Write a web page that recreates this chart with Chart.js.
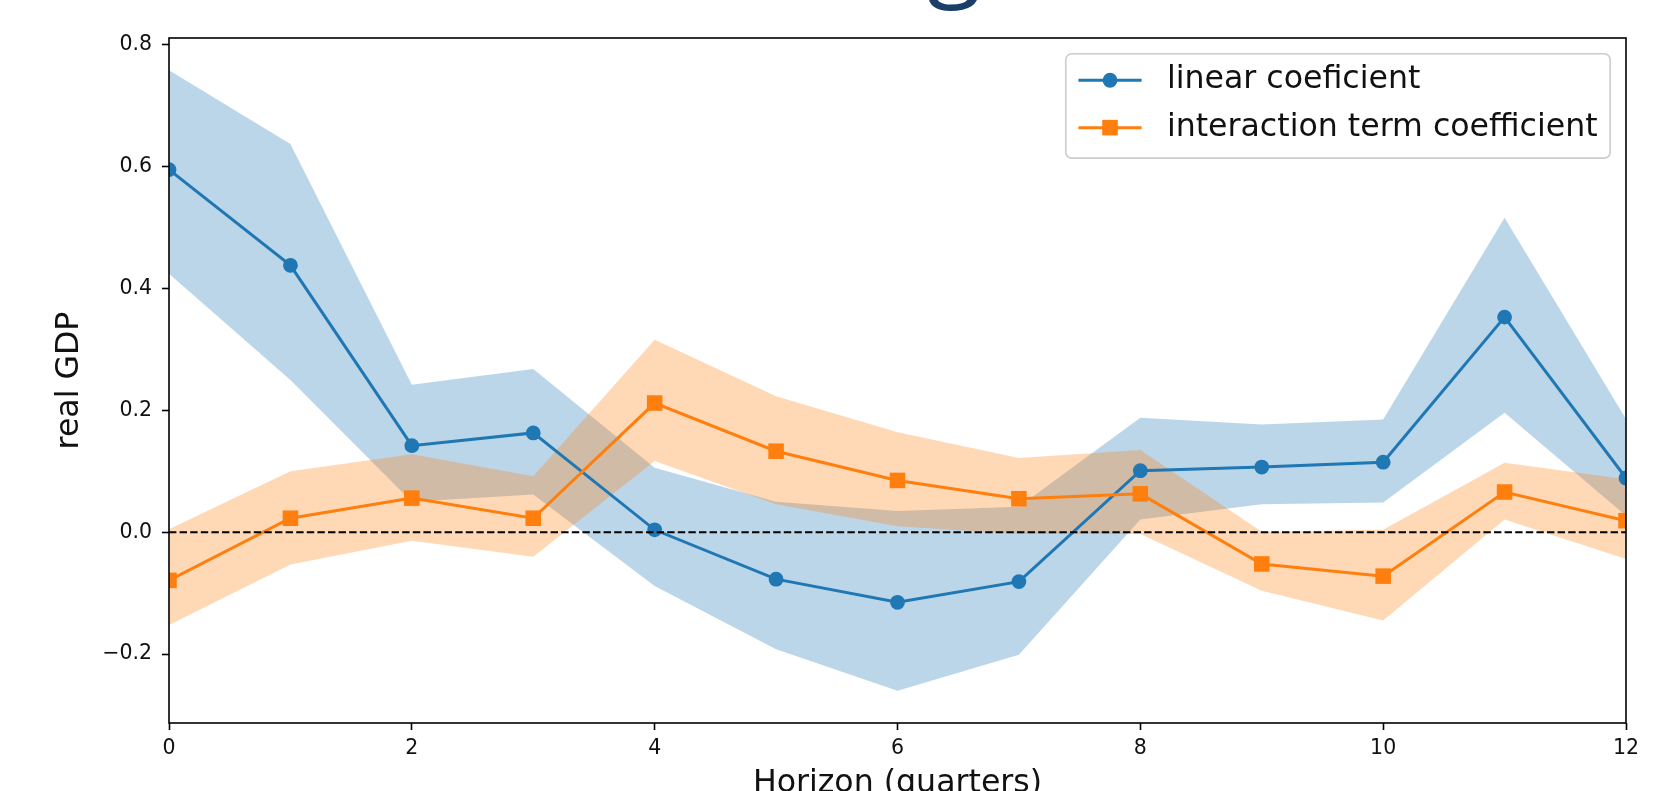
<!DOCTYPE html>
<html lang="en">
  <head>
    <meta charset="utf-8" />
    <title>real GDP response by horizon</title>
    <style>
      * {
        margin: 0;
        padding: 0;
      }
      body {
        width: 1672px;
        height: 791px;
        overflow: hidden;
        background: white;
        position: relative;
      }
      .chartBox {
        position: absolute;
        left: 0;
        top: 0;
        width: 1672px;
        height: 791px;
      }
      /* bottom of the slide title that sits above the figure */
      .slideTitle {
        position: absolute;
        left: 927px;
        top: -102px;
        font-family: "Open Sans";
        font-size: 100px;
        line-height: 1;
        color: #1b3f69;
      }
    </style>
  </head>
  <body>
    <div class="chartBox"><canvas id="myChart"></canvas></div>
    <div class="slideTitle">g</div>

    <script src="https://cdn.jsdelivr.net/npm/chart.js@4.4.1/dist/chart.umd.min.js"></script>

    <script>
      // data block
      const horizons = [0, 1, 2, 3, 4, 5, 6, 7, 8, 9, 10, 11, 12];
      const seriesNames = ["linear coeficient", "interaction term coefficient"];

      const linear = [0.595, 0.438, 0.142, 0.163, 0.004, -0.077, -0.115, -0.081, 0.101, 0.107, 0.115, 0.353, 0.089];
      const linearUpper = [0.758, 0.637, 0.242, 0.268, 0.106, 0.05, 0.035, 0.042, 0.188, 0.177, 0.185, 0.516, 0.186];
      const linearLower = [0.424, 0.25, 0.05, 0.062, -0.088, -0.192, -0.26, -0.201, 0.021, 0.046, 0.049, 0.196, 0.027];

      const interaction = [-0.079, 0.023, 0.056, 0.023, 0.212, 0.133, 0.085, 0.055, 0.063, -0.052, -0.072, 0.066, 0.019];
      const interactionUpper = [0.005, 0.1, 0.128, 0.092, 0.316, 0.223, 0.164, 0.122, 0.135, 0.001, 0.004, 0.114, 0.087];
      const interactionLower = [-0.152, -0.053, -0.014, -0.04, 0.117, 0.046, 0.01, -0.003, -0.003, -0.096, -0.145, 0.021, -0.044];

      const yTickValues = [-0.2, 0.0, 0.2, 0.4, 0.6, 0.8];

      const blue = "#1f77b4";
      const orange = "#ff7f0e";
      const blueBand = "rgba(31, 119, 180, 0.3)";
      const orangeBand = "rgba(255, 127, 14, 0.3)";
      const ink = "#111111";

      const toPoints = (values) => horizons.map((h, i) => ({ x: h, y: values[i] }));

      Chart.defaults.font.family = '"DejaVu Sans"';

      const band = (values, color, fill, order) => ({
        label: "",
        data: toPoints(values),
        fill: fill,
        backgroundColor: color,
        borderColor: "transparent",
        borderWidth: 0,
        pointRadius: 0,
        order: order,
        clip: 0,
      });

      // frame + matplotlib style legend
      const frameAndLegend = {
        id: "frameAndLegend",
        afterDatasetsDraw(chart) {
          const {
            ctx,
            chartArea: { top, bottom, left, right },
          } = chart;

          ctx.save();
          ctx.strokeStyle = "#000";
          ctx.lineWidth = 1.6;
          ctx.strokeRect(left, top, right - left, bottom - top);

          const fs = 31.6;
          ctx.font = `${fs}px "DejaVu Sans"`;
          const textW = Math.max(...seriesNames.map((n) => ctx.measureText(n).width));
          const pad = 0.4 * fs;
          const handleLen = 2 * fs;
          const textPad = 0.8 * fs;
          const rowGap = 0.5 * fs;
          const w = pad + handleLen + textPad + textW + pad;
          const h = 2 * pad + 2 * fs + rowGap;
          const x0 = right - 0.5 * fs - w;
          const y0 = top + 0.5 * fs;

          ctx.beginPath();
          ctx.roundRect(x0, y0, w, h, 6);
          ctx.fillStyle = "rgba(255, 255, 255, 0.8)";
          ctx.fill();
          ctx.strokeStyle = "#cccccc";
          ctx.lineWidth = 1.6;
          ctx.stroke();

          const colors = [blue, orange];
          const hx = x0 + pad;
          const mx = hx + handleLen / 2;
          seriesNames.forEach((name, i) => {
            const cy = y0 + pad + fs / 2 - 2 + i * (fs + rowGap);
            ctx.strokeStyle = colors[i];
            ctx.lineWidth = 3;
            ctx.beginPath();
            ctx.moveTo(hx, cy);
            ctx.lineTo(hx + handleLen, cy);
            ctx.stroke();
            ctx.fillStyle = colors[i];
            if (i === 0) {
              ctx.beginPath();
              ctx.arc(mx, cy, 7.4, 0, Math.PI * 2);
              ctx.fill();
            } else {
              ctx.fillRect(mx - 7.8, cy - 7.8, 15.6, 15.6);
            }
            ctx.fillStyle = ink;
            ctx.textBaseline = "middle";
            ctx.textAlign = "left";
            ctx.fillText(name, hx + handleLen + textPad, cy);
          });

          ctx.restore();
        },
      };

      const tickGrid = {
        drawOnChartArea: false,
        drawTicks: true,
        tickLength: 7,
        tickWidth: 1.6,
        tickColor: "#000",
      };

      // config block
      const config = {
        type: "line",
        data: {
          datasets: [
            band(linearUpper, blueBand, "+1", 6),
            band(linearLower, "transparent", false, 6),
            band(interactionUpper, orangeBand, "+1", 5),
            band(interactionLower, "transparent", false, 5),
            {
              label: seriesNames[0],
              data: toPoints(linear),
              borderColor: blue,
              backgroundColor: blue,
              borderWidth: 3,
              pointStyle: "circle",
              pointRadius: 7.4,
              pointBorderWidth: 0,
              fill: false,
              order: 4,
              clip: 0,
            },
            {
              label: seriesNames[1],
              data: toPoints(interaction),
              borderColor: orange,
              backgroundColor: orange,
              borderWidth: 3,
              pointStyle: "rect",
              pointRadius: 11,
              pointBorderWidth: 0,
              fill: false,
              order: 3,
              clip: 0,
            },
            {
              label: "zero",
              data: [
                { x: horizons[0], y: 0 },
                { x: horizons[horizons.length - 1], y: 0 },
              ],
              borderColor: "#000",
              borderWidth: 2,
              borderDash: [7.4, 3.2],
              pointRadius: 0,
              fill: false,
              order: 1,
              clip: 0,
            },
          ],
        },
        options: {
          responsive: true,
          maintainAspectRatio: false,
          animation: false,
          events: [],
          layout: { padding: { top: 38, right: 46, left: 0, bottom: 0 } },
          plugins: {
            legend: { display: false },
            tooltip: { enabled: false },
          },
          scales: {
            x: {
              type: "linear",
              min: 0,
              max: 12,
              ticks: {
                stepSize: 2,
                color: ink,
                font: { size: 20.5 },
                padding: 6,
                maxRotation: 0,
              },
              grid: tickGrid,
              border: { display: false },
              title: {
                display: true,
                text: "Horizon (quarters)",
                color: ink,
                font: { size: 31.6 },
                padding: { top: 0, bottom: -11.5 },
              },
              afterFit(scale) {
                scale.height = 68;
              },
            },
            y: {
              type: "linear",
              min: -0.313,
              max: 0.811,
              afterBuildTicks(scale) {
                scale.ticks = yTickValues.map((v) => ({ value: v }));
              },
              ticks: {
                color: ink,
                font: { size: 20.5 },
                padding: 10,
                callback: (v) => {
                  const s = Math.abs(v).toFixed(1);
                  return v < -1e-9 ? "\u2212" + s : s;
                },
              },
              grid: tickGrid,
              border: { display: false },
              title: {
                display: true,
                text: "real GDP",
                color: ink,
                font: { size: 31.6 },
                padding: { top: 50.7, bottom: 0 },
              },
              afterFit(scale) {
                scale.width = 169;
              },
            },
          },
        },
        plugins: [frameAndLegend],
      };

      // init render block
      const myChart = new Chart(document.getElementById("myChart"), config);
    </script>
  </body>
</html>
